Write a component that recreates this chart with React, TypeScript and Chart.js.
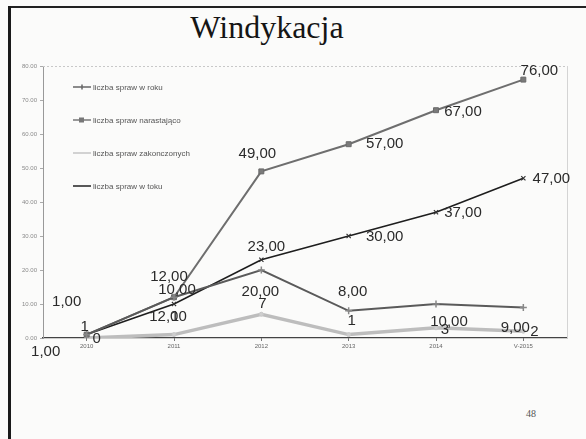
import React, { useEffect, useRef } from "react";
import { Chart, registerables } from "chart.js";

Chart.register(...registerables);

const categories = ["2010", "2011", "2012", "2013", "2014", "V-2015"];
const seriesNames = [
  "liczba spraw w roku",
  "liczba spraw narastająco",
  "liczba spraw zakonczonych",
  "liczba spraw w toku",
];
const wRoku = [1, 12, 20, 8, 10, 9];
const narastajaco = [1, 12, 49, 57, 67, 76];
const zakonczonych = [0, 1, 7, 1, 3, 2];
const wToku = [1, 10, 23, 30, 37, 47];

const labelsWRoku = ["1,00", "12,00", "20,00", "8,00", "10,00", "9,00"];
const labelsNarastajaco = ["1,00", "12,00", "49,00", "57,00", "67,00", "76,00"];
const labelsZakonczonych = ["0", "1", "7", "1", "3", "2"];
const labelsWToku = ["1", "10,00", "23,00", "30,00", "37,00", "47,00"];

const yTicks = [0, 10, 20, 30, 40, 50, 60, 70, 80];

// label placement (pixel offsets from each point), style only
const labelOffsets: number[][][] = [
  [[-20, -33], [-6, 20], [-1, 22], [4, -19], [13, 18], [-8, 20]],
  [[-41, 17], [-5, -20], [-4, -18], [36, 0], [27, 2], [16, -9]],
  [[10, 1], [1, -18], [1, -10], [3, -14], [9, 2], [11, 1]],
  [[-2, -8], [3, -14], [5, -13], [36, 1], [27, 1], [28, 1]],
];

const labelTexts = [labelsWRoku, labelsNarastajaco, labelsZakonczonych, labelsWToku];

const legendStyle = [
  { color: "#666", width: 1.5, marker: "cross" },
  { color: "#777", width: 1.5, marker: "rect" },
  { color: "#c4c4c4", width: 1.5, marker: "none" },
  { color: "#222", width: 1.5, marker: "none" },
];

const decorPlugin = {
  id: "decor",
  beforeDatasetsDraw(chart: any) {
    const { ctx, chartArea } = chart;
    ctx.save();
    ctx.strokeStyle = "#c8c8c8";
    ctx.lineWidth = 1;
    ctx.setLineDash([2, 2]);
    ctx.beginPath();
    ctx.moveTo(chartArea.left, chartArea.top + 0.5);
    ctx.lineTo(chartArea.right, chartArea.top + 0.5);
    ctx.stroke();
    ctx.setLineDash([]);
    ctx.strokeStyle = "#d4d4d4";
    ctx.beginPath();
    ctx.moveTo(chartArea.right + 0.5, chartArea.top);
    ctx.lineTo(chartArea.right + 0.5, chartArea.bottom);
    ctx.stroke();
    ctx.restore();
  },
  afterDatasetsDraw(chart: any) {
    const { ctx } = chart;
    ctx.save();
    // data labels
    ctx.font = "15px 'Liberation Sans', Arial, sans-serif";
    ctx.fillStyle = "#2a2a2a";
    ctx.textAlign = "center";
    ctx.textBaseline = "middle";
    chart.data.datasets.forEach((ds: any, di: number) => {
      const meta = chart.getDatasetMeta(di);
      meta.data.forEach((pt: any, i: number) => {
        const off = labelOffsets[di][i];
        ctx.fillText(labelTexts[di][i], pt.x + off[0], pt.y + off[1]);
      });
    });
    // legend
    const lx = 73;
    const ly0 = 87;
    const step = 33;
    ctx.font = "8px 'Liberation Sans', Arial, sans-serif";
    ctx.textAlign = "left";
    seriesNames.forEach((name, i) => {
      const y = ly0 + i * step;
      const st = legendStyle[i];
      ctx.strokeStyle = st.color;
      ctx.lineWidth = st.width;
      ctx.beginPath();
      ctx.moveTo(lx, y);
      ctx.lineTo(lx + 18, y);
      ctx.stroke();
      if (st.marker === "rect") {
        ctx.fillStyle = st.color;
        ctx.fillRect(lx + 6, y - 2.5, 5, 5);
      } else if (st.marker === "cross") {
        ctx.beginPath();
        ctx.moveTo(lx + 9, y - 2.5);
        ctx.lineTo(lx + 9, y + 2.5);
        ctx.stroke();
      }
      ctx.fillStyle = "#555";
      ctx.fillText(name, lx + 20, y + 0.5);
    });
    ctx.restore();
  },
};

export default function App() {
  const ref = useRef<HTMLCanvasElement | null>(null);

  useEffect(() => {
    if (!ref.current) return;
    const chart = new Chart(ref.current, {
      type: "line",
      data: {
        labels: categories,
        datasets: [
          {
            label: seriesNames[0],
            data: wRoku,
            borderColor: "#5a5a5a",
            backgroundColor: "#5a5a5a",
            borderWidth: 2,
            pointStyle: "cross",
            pointRadius: 3.5,
            pointBorderWidth: 1.5,
            pointBorderColor: "#888",
          },
          {
            label: seriesNames[1],
            data: narastajaco,
            borderColor: "#6e6e6e",
            backgroundColor: "#7a7a7a",
            borderWidth: 2,
            pointStyle: "rect",
            pointRadius: 3.5,
            pointBorderWidth: 1,
            pointBorderColor: "#6a6a6a",
          },
          {
            label: seriesNames[2],
            data: zakonczonych,
            borderColor: "#bdbdbd",
            backgroundColor: "#cfcfcf",
            borderWidth: 3.5,
            pointStyle: "circle",
            pointRadius: 2,
            pointBorderWidth: 1,
            pointBorderColor: "#c8c8c8",
          },
          {
            label: seriesNames[3],
            data: wToku,
            borderColor: "#1e1e1e",
            backgroundColor: "#1e1e1e",
            borderWidth: 1.6,
            pointStyle: "crossRot",
            pointRadius: 3,
            pointBorderWidth: 1.2,
            pointBorderColor: "#333",
          },
        ],
      },
      options: {
        responsive: false,
        animation: false,
        events: [],
        layout: { padding: { left: 7, right: 19, top: 66, bottom: 81 } },
        plugins: {
          legend: { display: false },
          tooltip: { enabled: false },
          title: { display: false },
        },
        scales: {
          x: {
            type: "category",
            offset: true,
            grid: {
              display: true,
              drawOnChartArea: false,
              tickLength: 3,
              color: "#777",
            },
            border: { color: "#444", width: 1.2 },
            ticks: {
              font: { size: 6, family: "'Liberation Sans', Arial, sans-serif" },
              color: "#666",
              padding: 2,
              maxRotation: 0,
              autoSkip: false,
            },
            afterFit: (s: any) => {
              s.height = 20;
            },
          },
          y: {
            min: 0,
            max: 80,
            afterBuildTicks: (s: any) => {
              s.ticks = yTicks.map((v) => ({ value: v }));
            },
            ticks: {
              callback: (v: any) => Number(v).toFixed(2),
              font: { size: 6, family: "'Liberation Sans', Arial, sans-serif" },
              color: "#8a8a8a",
              padding: 3,
            },
            grid: {
              display: true,
              drawOnChartArea: false,
              tickLength: 3,
              color: "#aaa",
            },
            border: { color: "#999", width: 1 },
            afterFit: (s: any) => {
              s.width = 36;
            },
          },
        },
      },
      plugins: [decorPlugin],
    });
    return () => chart.destroy();
  }, []);

  return (
    <div
      style={{
        position: "fixed",
        left: 0,
        top: 0,
        width: 586,
        height: 439,
        background: "#fbfbfa",
        overflow: "hidden",
      }}
    >
      <div
        style={{
          position: "absolute",
          left: 8,
          top: 6,
          width: 578,
          height: 2,
          background: "#222",
        }}
      />
      <div
        style={{
          position: "absolute",
          left: 8,
          top: 6,
          width: 3,
          height: 433,
          background: "#1a1a1a",
        }}
      />
      <div
        style={{
          position: "absolute",
          left: 167,
          top: 11,
          width: 200,
          textAlign: "center",
          fontFamily: "'Liberation Serif', 'Times New Roman', serif",
          fontSize: 32,
          lineHeight: "32px",
          color: "#151515",
        }}
      >
        Windykacja
      </div>
      <div
        style={{
          position: "absolute",
          left: 526,
          top: 408,
          fontFamily: "'Liberation Serif', 'Times New Roman', serif",
          fontSize: 10,
          lineHeight: "12px",
          color: "#555",
        }}
      >
        48
      </div>
      <canvas
        ref={ref}
        width={586}
        height={439}
        style={{ position: "absolute", left: 0, top: 0, width: 586, height: 439 }}
      />
    </div>
  );
}
